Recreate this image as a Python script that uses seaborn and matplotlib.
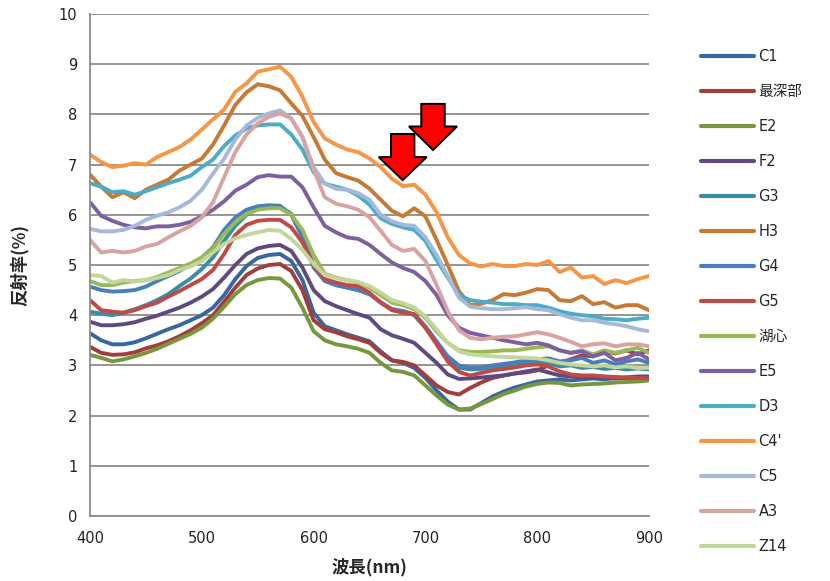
import numpy as np
import pandas as pd
import matplotlib
matplotlib.use("Agg")
import matplotlib.pyplot as plt
from matplotlib.patches import Polygon
import seaborn as sns

# ---------------- data ----------------
wavelength = np.arange(400, 901, 10)

series_names = ["C1", "最深部", "E2", "F2", "G3", "H3", "G4", "G5", "湖心",
                "E5", "D3", "C4'", "C5", "A3", "Z14"]

series_colors = ["#3A66A0", "#A13D3B", "#77973D", "#5E4A7E", "#3A8DA2", "#C67A33",
                 "#4A7EBB", "#BE4B48", "#98B954", "#7D60A0", "#4BACC6", "#F79646",
                 "#A5B9DB", "#D9A3A1", "#C3D69B"]

C1 = [3.64, 3.50, 3.42, 3.42, 3.46, 3.54, 3.63, 3.72, 3.80, 3.90,
      4.00, 4.15, 4.40, 4.72, 4.98, 5.14, 5.20, 5.22, 5.08, 4.70,
      4.05, 3.78, 3.70, 3.62, 3.55, 3.48, 3.28, 3.10, 3.05, 2.95,
      2.75, 2.50, 2.28, 2.12, 2.12, 2.25, 2.38, 2.48, 2.56, 2.62,
      2.68, 2.70, 2.72, 2.70, 2.72, 2.74, 2.72, 2.75, 2.74, 2.76,
      2.75]
saishinbu = [3.37, 3.25, 3.21, 3.22, 3.26, 3.34, 3.40, 3.48, 3.58, 3.70,
             3.84, 4.00, 4.27, 4.55, 4.80, 4.93, 5.00, 5.02, 4.88, 4.50,
             3.90, 3.72, 3.66, 3.58, 3.52, 3.45, 3.25, 3.10, 3.07, 3.00,
             2.80, 2.60, 2.47, 2.42, 2.55, 2.66, 2.75, 2.80, 2.84, 2.86,
             2.90, 3.00, 3.05, 3.12, 3.20, 3.18, 3.28, 3.24, 3.30, 3.22,
             3.30]
E2 = [3.21, 3.15, 3.08, 3.12, 3.18, 3.25, 3.33, 3.43, 3.53, 3.63,
      3.75, 3.93, 4.17, 4.42, 4.60, 4.70, 4.74, 4.73, 4.55, 4.15,
      3.68, 3.50, 3.42, 3.38, 3.33, 3.25, 3.05, 2.90, 2.87, 2.80,
      2.60, 2.40, 2.22, 2.12, 2.14, 2.23, 2.33, 2.43, 2.50, 2.58,
      2.63, 2.66, 2.65, 2.60, 2.62, 2.63, 2.64, 2.66, 2.67, 2.68,
      2.70]
F2 = [3.87, 3.80, 3.80, 3.82, 3.86, 3.93, 3.99, 4.07, 4.15, 4.25,
      4.37, 4.52, 4.75, 5.00, 5.22, 5.33, 5.38, 5.40, 5.28, 4.95,
      4.50, 4.28, 4.18, 4.10, 4.02, 3.95, 3.72, 3.60, 3.53, 3.45,
      3.25, 3.05, 2.82, 2.73, 2.74, 2.76, 2.78, 2.80, 2.84, 2.88,
      2.92, 2.86, 2.80, 2.78, 2.76, 2.75, 2.76, 2.74, 2.76, 2.78,
      2.78]
G3 = [4.07, 4.03, 4.00, 4.05, 4.12, 4.20, 4.30, 4.42, 4.58, 4.73,
      4.92, 5.15, 5.48, 5.78, 6.00, 6.12, 6.15, 6.16, 6.02, 5.60,
      5.00, 4.70, 4.60, 4.55, 4.50, 4.42, 4.25, 4.12, 4.08, 4.00,
      3.75, 3.45, 3.15, 2.95, 2.92, 2.93, 2.96, 2.98, 3.02, 3.04,
      3.05, 3.05, 2.98, 3.00, 2.95, 2.97, 2.93, 2.95, 2.92, 2.94,
      2.92]
H3 = [6.80, 6.56, 6.35, 6.45, 6.33, 6.50, 6.60, 6.70, 6.88, 7.00,
      7.12, 7.40, 7.78, 8.19, 8.44, 8.60, 8.56, 8.48, 8.22, 7.97,
      7.55, 7.10, 6.83, 6.75, 6.68, 6.52, 6.30, 6.08, 5.97, 6.13,
      5.97, 5.50, 5.00, 4.48, 4.20, 4.23, 4.30, 4.42, 4.40, 4.45,
      4.52, 4.50, 4.30, 4.28, 4.38, 4.22, 4.26, 4.15, 4.20, 4.20,
      4.10]
G4 = [4.57, 4.50, 4.47, 4.48, 4.50, 4.57, 4.68, 4.78, 4.88, 5.00,
      5.15, 5.35, 5.70, 5.95, 6.10, 6.17, 6.19, 6.18, 6.00, 5.55,
      4.95, 4.68, 4.60, 4.55, 4.50, 4.42, 4.26, 4.12, 4.08, 4.02,
      3.78, 3.48, 3.18, 3.00, 2.95, 2.96, 3.00, 3.03, 3.06, 3.10,
      3.12, 3.14, 3.08, 3.10, 3.15, 3.05, 3.10, 3.02, 3.08, 3.12,
      3.05]
G5 = [4.30, 4.10, 4.07, 4.05, 4.10, 4.18, 4.25, 4.37, 4.48, 4.60,
      4.72, 4.90, 5.22, 5.60, 5.80, 5.88, 5.90, 5.90, 5.75, 5.45,
      5.00, 4.72, 4.65, 4.60, 4.58, 4.45, 4.25, 4.10, 4.05, 4.02,
      3.75, 3.42, 3.08, 2.87, 2.80, 2.85, 2.90, 2.93, 2.96, 3.00,
      3.02, 2.98, 2.88, 2.82, 2.80, 2.80, 2.78, 2.77, 2.76, 2.75,
      2.74]
koshin = [4.68, 4.60, 4.60, 4.65, 4.68, 4.70, 4.76, 4.85, 4.94, 5.03,
          5.15, 5.33, 5.62, 5.85, 6.02, 6.10, 6.13, 6.13, 6.00, 5.70,
          5.20, 4.82, 4.75, 4.70, 4.65, 4.55, 4.40, 4.25, 4.20, 4.12,
          3.95, 3.68, 3.45, 3.30, 3.27, 3.27, 3.28, 3.30, 3.30, 3.33,
          3.36, 3.38, 3.30, 3.25, 3.30, 3.22, 3.30, 3.25, 3.30, 3.35,
          3.25]
E5 = [6.25, 5.98, 5.88, 5.80, 5.75, 5.73, 5.77, 5.77, 5.80, 5.86,
      5.97, 6.10, 6.27, 6.48, 6.60, 6.75, 6.79, 6.76, 6.76, 6.55,
      6.15, 5.78, 5.65, 5.55, 5.52, 5.40, 5.22, 5.05, 4.94, 4.86,
      4.68, 4.40, 4.00, 3.75, 3.65, 3.60, 3.55, 3.50, 3.46, 3.42,
      3.45, 3.40, 3.30, 3.25, 3.28, 3.18, 3.25, 3.10, 3.15, 3.25,
      3.12]
D3 = [6.63, 6.56, 6.45, 6.47, 6.40, 6.47, 6.55, 6.63, 6.70, 6.78,
      6.95, 7.10, 7.37, 7.58, 7.72, 7.78, 7.80, 7.80, 7.60, 7.30,
      6.85, 6.62, 6.56, 6.50, 6.38, 6.20, 5.93, 5.82, 5.75, 5.70,
      5.48, 5.10, 4.75, 4.40, 4.30, 4.27, 4.25, 4.22, 4.22, 4.20,
      4.20, 4.15, 4.08, 4.03, 4.00, 3.98, 3.93, 3.92, 3.90, 3.93,
      3.95]
C4p = [7.20, 7.05, 6.95, 6.98, 7.03, 7.00, 7.15, 7.25, 7.35, 7.50,
       7.70, 7.90, 8.10, 8.45, 8.62, 8.85, 8.90, 8.95, 8.75, 8.35,
       7.85, 7.52, 7.40, 7.30, 7.25, 7.12, 6.95, 6.72, 6.57, 6.60,
       6.40, 6.05, 5.55, 5.20, 5.03, 4.97, 5.02, 4.98, 4.98, 5.02,
       5.00, 5.08, 4.86, 4.95, 4.75, 4.78, 4.62, 4.70, 4.64, 4.72,
       4.78]
C5 = [5.72, 5.67, 5.67, 5.70, 5.78, 5.90, 5.98, 6.05, 6.15, 6.28,
      6.50, 6.82, 7.12, 7.50, 7.78, 7.93, 8.02, 8.08, 7.92, 7.55,
      6.95, 6.62, 6.52, 6.50, 6.43, 6.30, 6.00, 5.87, 5.80, 5.78,
      5.55, 5.20, 4.78, 4.35, 4.17, 4.14, 4.12, 4.12, 4.14, 4.16,
      4.12, 4.10, 4.02, 3.95, 3.90, 3.90, 3.85, 3.82, 3.78, 3.72,
      3.68]
A3 = [5.50, 5.25, 5.28, 5.25, 5.28, 5.37, 5.42, 5.55, 5.67, 5.78,
      5.95, 6.25, 6.75, 7.25, 7.60, 7.82, 7.95, 8.02, 7.92, 7.55,
      6.90, 6.35, 6.22, 6.17, 6.10, 5.95, 5.68, 5.40, 5.28, 5.32,
      5.08, 4.60, 4.08, 3.70, 3.55, 3.52, 3.55, 3.57, 3.58, 3.62,
      3.66, 3.62, 3.55, 3.47, 3.38, 3.42, 3.44, 3.38, 3.42, 3.42,
      3.38]
Z14 = [4.80, 4.78, 4.65, 4.70, 4.67, 4.70, 4.74, 4.80, 4.90, 4.97,
       5.08, 5.25, 5.42, 5.53, 5.60, 5.65, 5.70, 5.68, 5.52, 5.30,
       5.02, 4.80, 4.74, 4.70, 4.66, 4.58, 4.45, 4.30, 4.24, 4.15,
       3.98, 3.72, 3.45, 3.28, 3.22, 3.20, 3.18, 3.17, 3.16, 3.15,
       3.14, 3.10, 3.05, 3.02, 3.00, 2.98, 3.00, 2.96, 2.98, 2.95,
       2.95]

series_values = [C1, saishinbu, E2, F2, G3, H3, G4, G5, koshin,
                 E5, D3, C4p, C5, A3, Z14]

y_ticks = [0, 1, 2, 3, 4, 5, 6, 7, 8, 9, 10]
x_ticks = [400, 500, 600, 700, 800, 900]

# long-form table
frames = []
for name, vals in zip(series_names, series_values):
    assert len(vals) == len(wavelength), name
    frames.append(pd.DataFrame({"wavelength": wavelength, "value": vals, "series": name}))
df = pd.concat(frames, ignore_index=True)

# ---------------- style ----------------
sns.set_style("white")
plt.rcParams["font.family"] = ["DejaVu Sans", "Noto Sans CJK JP"]

fig = plt.figure(figsize=(8.30, 5.81), dpi=100)
ax = fig.add_axes([90 / 830, 1 - 516 / 581, (649 - 90) / 830, (516 - 14) / 581])

palette = dict(zip(series_names, series_colors))
sns.lineplot(data=df, x="wavelength", y="value", hue="series",
             hue_order=series_names, palette=palette, linewidth=2.8,
             ax=ax, legend=True)

ax.set_xlim(400, 900)
ax.set_ylim(0, 10)
ax.set_xticks(x_ticks)
ax.set_yticks(y_ticks)
ax.grid(axis="y", color="#8C8C8C", linewidth=1.3)
ax.grid(axis="x", visible=False)
ax.set_axisbelow(True)
for s in ["top", "right"]:
    ax.spines[s].set_visible(False)
for s in ["left", "bottom"]:
    ax.spines[s].set_color("#8C8C8C")
    ax.spines[s].set_linewidth(1.3)
ax.tick_params(axis="both", which="major", length=5, width=1.2, color="#8C8C8C",
               labelsize=10.5, labelcolor="#222222", pad=4)
ax.tick_params(axis="x", pad=6)

ax.set_xlabel("波長(nm)", fontsize=12.5, fontweight="bold",
              family=["Noto Sans CJK JP", "DejaVu Sans"])
ax.set_ylabel("反射率(%)", fontsize=12.5, fontweight="bold",
              family=["Noto Sans CJK JP", "DejaVu Sans"])
ax.xaxis.set_label_coords(0.5, -0.084)
ax.yaxis.set_label_coords(-0.11, 0.5)

# legend on the right
handles, labels = ax.get_legend_handles_labels()
ax.get_legend().remove()
leg = fig.legend(handles, labels, loc="upper left",
                 bbox_to_anchor=(701 / 830, 1 - 49 / 581),
                 frameon=False, fontsize=10.5, handlelength=3.6,
                 handletextpad=0.35, labelspacing=1.37,
                 borderpad=0, borderaxespad=0)
for line in leg.get_lines():
    line.set_linewidth(3)

# red block arrows (annotation)
def block_arrow(tip_x, tip_y, shaft_half, head_half, head_len, total_len):
    verts = [
        (tip_x, tip_y),
        (tip_x - head_half, tip_y + head_len),
        (tip_x - shaft_half, tip_y + head_len),
        (tip_x - shaft_half, tip_y + total_len),
        (tip_x + shaft_half, tip_y + total_len),
        (tip_x + shaft_half, tip_y + head_len),
        (tip_x + head_half, tip_y + head_len),
    ]
    poly = Polygon(verts, closed=True, facecolor="#FF0000", edgecolor="black",
                   linewidth=1.4, zorder=10, clip_on=False)
    ax.add_patch(poly)

block_arrow(679.7, 6.69, 10.5, 21.5, 0.46, 0.92)
block_arrow(706.8, 7.29, 10.5, 21.5, 0.47, 0.92)

fig.savefig("out.png", dpi=100)
